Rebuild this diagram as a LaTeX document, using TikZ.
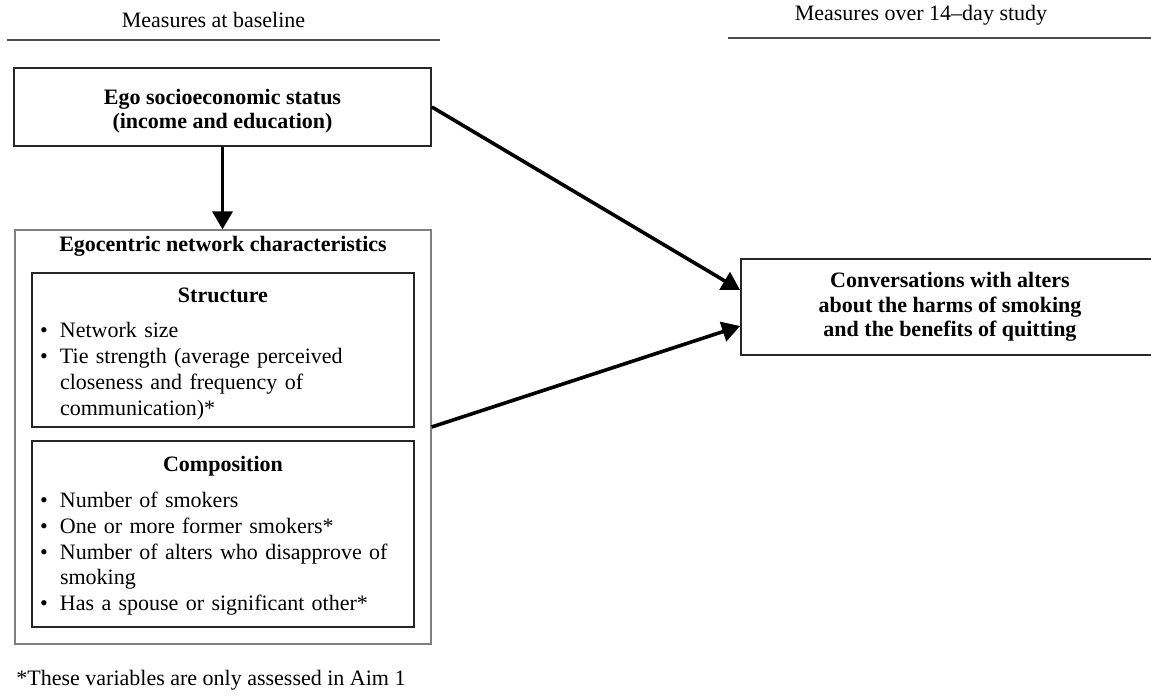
\documentclass[tikz,border=0pt]{standalone}
\usepackage{fontspec}
\setmainfont{Liberation Serif}
\usetikzlibrary{arrows.meta,%
		positioning}
\tikzset{
	box/.style={draw=black!85, line width=0.9pt, align=center, inner sep=0pt,
		font=\bfseries\fontsize{11}{12.2}\selectfont},
	listbox/.style={draw=black!85, line width=0.9pt, minimum width=191pt},
	listtext/.style={inner sep=0pt, text width=183pt, font=\fontsize{11}{12.9}\selectfont},
	outerbox/.style={draw=black!50, line width=0.6pt, minimum width=208pt, minimum height=207pt},
	headline/.style={draw=black!70, line width=0.6pt},
	link/.style={line width=1.8pt, -{Triangle[length=9pt,width=10pt]}},
	plain/.style={inner sep=0pt, font=\fontsize{11}{12}\selectfont}
}
\newcommand{\bul}{\par\hangindent=10pt\hangafter=1\noindent\makebox[10pt][l]{\textbullet}}

\begin{document}
\begin{tikzpicture}[x=0.5pt,y=-0.5pt]
\useasboundingbox (0,0) rectangle (1151,698);
%Intestazioni
\node[plain, anchor=base] (hbase) at (213.5,27) {Measures at baseline};
\node[plain, anchor=base] (hstudy) at (921,20) {Measures over 14–day study};
\draw[headline] (7,40) -- (440,40);
\draw[headline] (728,38) -- (1151,38);
%Baseline
\node[box, minimum width=208.5pt, minimum height=39pt] (ses) at (222.5,107) {\rule{0pt}{12pt}Ego socioeconomic status\\(income and education)};
\node[outerbox] (net) at (223,437) {};
\node[plain, font=\bfseries\fontsize{11}{12}\selectfont, below=3pt of net.north] (netlabel) {Egocentric network characteristics};
\node[listbox, minimum height=77pt] (struct) at (223,350) {};
\node[listtext, below=7.5pt of struct.north] (structtext) {\centering\textbf{Structure}\par\vspace{5pt}\raggedright
	\bul Network size
	\bul Tie strength (average perceived\newline closeness and frequency of\newline communication)*\par};
\node[listbox, minimum height=93pt] (comp) at (223,534) {};
\node[listtext, below=8pt of comp.north] (comptext) {\centering\textbf{Composition}\par\vspace{5pt}\raggedright
	\bul Number of smokers
	\bul One or more former smokers*
	\bul Number of alters who disapprove of\newline smoking
	\bul Has a spouse or significant other*\par};
%Esito
\node[box, minimum width=209pt, minimum height=48pt] (conv) at (950,307) {Conversations with alters\\about the harms of smoking\\and the benefits of quitting};
\node[plain, anchor=base west] (note) at (16,685) {*These variables are only assessed in Aim 1};
\draw[link] (ses.south) -- (ses.south |- net.north);
\draw[link] (ses.east) -- ([yshift=8.5pt]conv.west);
\draw[link] ([yshift=5pt]net.east) -- ([yshift=-9.5pt]conv.west);
\end{tikzpicture}
\end{document}
